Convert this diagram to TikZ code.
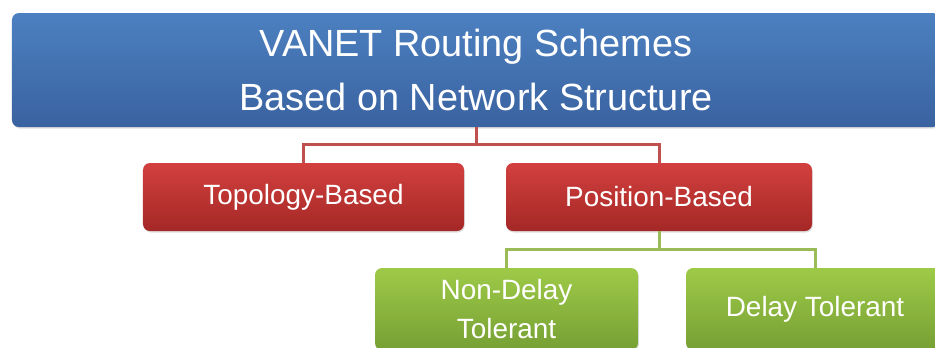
\documentclass[tikz,border=0pt]{standalone}
\usepackage{fontspec}
\setmainfont{Liberation Sans}
\usetikzlibrary{shadows}
\definecolor{bluetop}{RGB}{76,128,192}
\definecolor{bluebot}{RGB}{58,98,160}
\definecolor{redtop}{RGB}{210,64,62}
\definecolor{redbot}{RGB}{164,40,38}
\definecolor{greentop}{RGB}{158,202,72}
\definecolor{greenbot}{RGB}{118,160,52}
\definecolor{redline}{RGB}{192,80,77}
\definecolor{greenline}{RGB}{155,187,89}
\tikzset{
  box/.style={rectangle, rounded corners=7bp, inner sep=0pt, text=white, align=center,
    drop shadow={opacity=0.25, shadow xshift=0.8bp, shadow yshift=-1.5bp}},
  bluebox/.style={box, top color=bluetop, bottom color=bluebot, font=\fontsize{38}{55}\selectfont},
  redbox/.style={box, top color=redtop, bottom color=redbot, font=\fontsize{28}{40}\selectfont},
  greenbox/.style={box, top color=greentop, bottom color=greenbot, font=\fontsize{28}{40}\selectfont},
  redconn/.style={draw=redline, line width=3bp},
  greenconn/.style={draw=greenline, line width=3bp},
}
\begin{document}
\begin{tikzpicture}[x=1bp,y=-1bp]
\useasboundingbox (0,0) rectangle (935,347);
\clip (0,0) rectangle (935,347);
\node[bluebox, minimum width=928bp, minimum height=114bp] (top) at (476,70)
  {VANET Routing Schemes\\Based on Network Structure};
\node[redbox, minimum width=321bp, minimum height=68bp] (topo) at (303.5,197) {Topology-Based};
\node[redbox, minimum width=306bp, minimum height=68bp] (pos) at (659,197) {Position-Based};
\node[greenbox, minimum width=263bp, minimum height=82bp] (nondelay) at (506.5,309) {Non-Delay\\Tolerant};
\node[greenbox, minimum width=258bp, minimum height=82bp] (delay) at (815,309) {Delay Tolerant};
\coordinate (rbus) at (0,144);
\coordinate (gbus) at (0,249);
\draw[redconn] (top.south) -- (top.south |- rbus) -| (topo.north);
\draw[redconn] (top.south |- rbus) -| (pos.north);
\draw[greenconn] (pos.south) -- (pos.south |- gbus) -| (nondelay.north);
\draw[greenconn] (pos.south |- gbus) -| (delay.north);
\end{tikzpicture}
\end{document}
